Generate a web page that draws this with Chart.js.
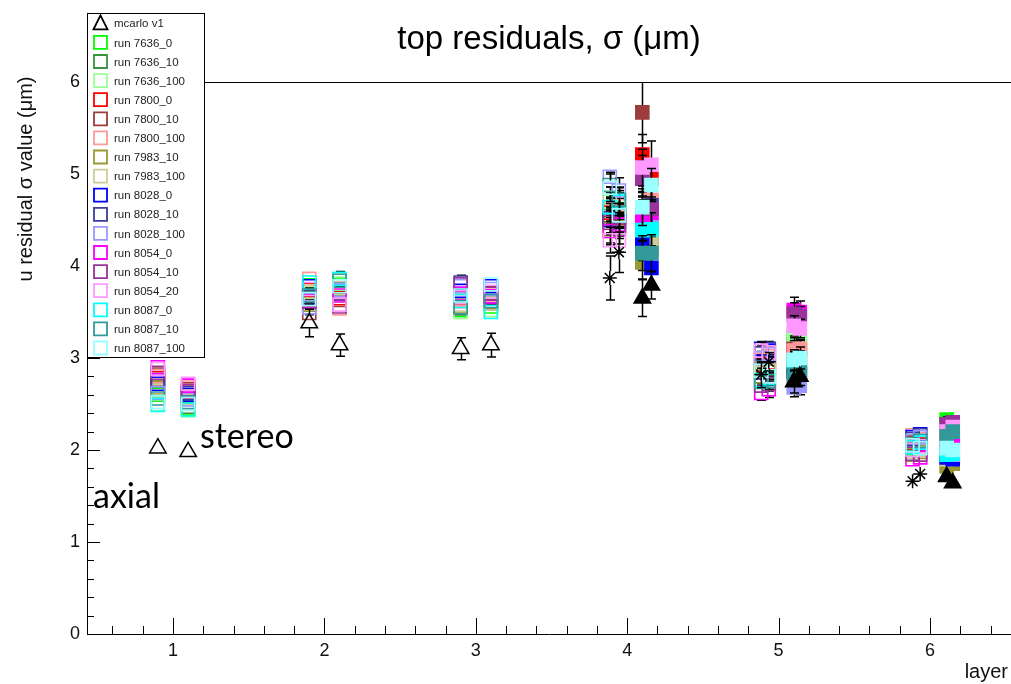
<!DOCTYPE html>
<html><head><meta charset="utf-8">
<script src="https://cdn.jsdelivr.net/npm/chart.js@4"></script>
<style>html,body{margin:0;padding:0;background:#fff;overflow:hidden}#wrap{position:relative;width:1011px;height:684px}</style>
</head><body><div id="wrap"><canvas id="c" width="1011" height="684"></canvas></div>
<script>
// x positions: layers 1-3 (axial, stereo); layers 4-6 (axial a, axial b, stereo a, stereo b)
const positions = [0.9, 1.1, 1.9, 2.1, 2.9, 3.1,
  3.885, 3.945, 4.1, 4.16,
  4.885, 4.935, 5.1, 5.14,
  5.885, 5.935, 6.11, 6.15];
const xTickValues = [1, 2, 3, 4, 5, 6];
const yTickValues = [0, 1, 2, 3, 4, 5, 6];

const mcarloValues = [2.02, 1.98, 3.38, 3.14, 3.10, 3.14, 3.87, 4.15, 3.65, 3.79, 2.82, 2.96, 2.74, 2.80, 1.66, 1.74, 1.71, 1.64];
const mcarloErrors = [0.02, 0.02, 0.15, 0.12, 0.12, 0.13, 0.24, 0.22, 0.20, 0.15, 0.14, 0.10, 0.12, 0.10, 0.04, 0.05, 0.05, 0.05];

const runLabels = ['run 7636_0','run 7636_10','run 7636_100','run 7800_0','run 7800_10','run 7800_100',
  'run 7983_10','run 7983_100','run 8028_0','run 8028_10','run 8028_100','run 8054_0','run 8054_10',
  'run 8054_20','run 8087_0','run 8087_10','run 8087_100'];
const runColors = ['#00ff00','#3c9140','#99ff99','#ff0000','#9c3c3c','#ff9999','#999933','#cccc99',
  '#0000ff','#3c3c99','#9999ff','#ff00ff','#993399','#ff99ff','#00ffff','#339999','#99ffff'];

const run7636_0   = [2.60, 2.45, 3.79, 3.80, 3.52, 3.56, 4.60, 4.62, 4.35, 4.45, 2.90, 2.92, 3.22, 3.18, 2.02, 2.05, 2.33, 2.20];
const run7636_10  = [2.66, 2.47, 3.66, 3.75, 3.54, 3.59, 4.55, 4.58, 4.20, 4.25, 2.85, 2.88, 3.15, 3.12, 2.00, 2.02, 2.28, 2.18];
const run7636_100 = [2.50, 2.43, 3.70, 3.81, 3.50, 3.52, 4.70, 4.66, 4.62, 4.70, 2.95, 2.94, 3.25, 3.24, 2.06, 2.08, 2.22, 2.24];
const run7800_0   = [2.78, 2.64, 3.74, 3.65, 3.65, 3.66, 4.58, 4.60, 5.21, 4.95, 2.92, 2.95, 3.05, 3.08, 2.04, 2.06, 2.12, 2.10];
const run7800_10  = [2.82, 2.66, 3.49, 3.63, 3.62, 3.71, 4.50, 4.52, 5.67, 4.60, 2.88, 2.90, 3.10, 3.02, 2.08, 2.05, 2.15, 2.12];
const run7800_100 = [2.80, 2.68, 3.86, 3.54, 3.64, 3.69, 4.62, 4.65, 5.00, 4.72, 2.98, 3.02, 3.08, 3.10, 2.16, 2.12, 2.10, 2.08];
const run7983_10  = [2.68, 2.58, 3.58, 3.71, 3.56, 3.61, 4.40, 4.42, 4.04, 4.18, 2.80, 2.85, 2.92, 2.90, 1.95, 1.98, 1.82, 1.85];
const run7983_100 = [2.64, 2.56, 3.72, 3.76, 3.58, 3.59, 4.74, 4.68, 4.25, 4.30, 2.84, 2.86, 2.95, 2.98, 1.98, 2.00, 1.90, 1.92];
const run8028_0   = [2.72, 2.60, 3.78, 3.72, 3.73, 3.78, 4.50, 4.48, 4.28, 3.98, 3.10, 3.08, 2.85, 2.82, 2.14, 2.17, 1.92, 1.90];
const run8028_10  = [2.76, 2.62, 3.66, 3.70, 3.82, 3.66, 4.52, 4.55, 4.55, 4.66, 3.05, 3.10, 2.88, 2.85, 2.12, 2.16, 1.96, 1.98];
const run8028_100 = [2.62, 2.55, 3.55, 3.74, 3.78, 3.75, 4.97, 4.82, 4.45, 4.52, 3.00, 3.04, 2.68, 2.70, 2.10, 2.14, 2.00, 1.95];
const run8054_0   = [2.90, 2.70, 3.62, 3.68, 3.70, 3.67, 4.38, 4.45, 4.50, 4.58, 2.62, 2.66, 3.52, 3.50, 1.90, 1.92, 2.05, 2.10];
const run8054_10  = [2.84, 2.64, 3.61, 3.56, 3.80, 3.70, 4.47, 4.40, 4.95, 4.62, 2.70, 2.72, 3.48, 3.45, 1.96, 1.95, 2.28, 2.30];
const run8054_20  = [2.88, 2.72, 3.75, 3.58, 3.66, 3.72, 4.28, 4.28, 5.07, 5.10, 3.08, 3.06, 3.35, 3.32, 2.00, 2.04, 2.20, 2.25];
const run8087_0   = [2.49, 2.44, 3.82, 3.86, 3.62, 3.50, 4.64, 4.70, 4.39, 4.40, 2.76, 2.78, 2.96, 2.92, 2.03, 2.08, 1.95, 1.96];
const run8087_10  = [2.56, 2.52, 3.68, 3.84, 3.55, 3.62, 4.88, 4.72, 4.14, 4.14, 2.74, 2.75, 2.82, 2.86, 2.06, 2.10, 2.15, 2.20];
const run8087_100 = [2.52, 2.50, 3.64, 3.78, 3.68, 3.80, 4.85, 4.55, 4.64, 4.88, 2.86, 2.80, 2.98, 3.00, 2.05, 2.02, 2.02, 2.00];

const err7636_0   = [0.03,0.03,0.04,0.03,0.03,0.04, 0.14,0.12,0.18,0.16, 0.08,0.07,0.10,0.09, 0.05,0.05,0.06,0.05];
const err7636_10  = [0.03,0.04,0.03,0.03,0.04,0.03, 0.13,0.15,0.20,0.17, 0.07,0.08,0.11,0.10, 0.05,0.06,0.06,0.06];
const err7636_100 = [0.04,0.03,0.03,0.04,0.03,0.03, 0.16,0.14,0.19,0.22, 0.09,0.08,0.12,0.09, 0.06,0.05,0.05,0.07];
const err7800_0   = [0.03,0.03,0.04,0.05,0.03,0.08, 0.15,0.13,0.22,0.20, 0.08,0.09,0.10,0.11, 0.05,0.05,0.06,0.06];
const err7800_10  = [0.04,0.03,0.03,0.04,0.03,0.03, 0.14,0.16,0.33,0.18, 0.07,0.08,0.12,0.10, 0.06,0.05,0.07,0.05];
const err7800_100 = [0.03,0.04,0.03,0.03,0.04,0.03, 0.13,0.14,0.20,0.19, 0.09,0.07,0.11,0.10, 0.05,0.06,0.05,0.06];
const err7983_10  = [0.03,0.03,0.05,0.03,0.03,0.04, 0.15,0.12,0.18,0.21, 0.08,0.08,0.10,0.12, 0.05,0.05,0.06,0.05];
const err7983_100 = [0.04,0.03,0.03,0.04,0.03,0.03, 0.12,0.14,0.19,0.17, 0.07,0.09,0.12,0.10, 0.06,0.05,0.05,0.06];
const err8028_0   = [0.03,0.04,0.03,0.03,0.05,0.04, 0.14,0.15,0.21,0.18, 0.08,0.07,0.10,0.11, 0.05,0.06,0.06,0.05];
const err8028_10  = [0.03,0.03,0.08,0.03,0.08,0.03, 0.16,0.13,0.20,0.19, 0.09,0.08,0.11,0.09, 0.05,0.05,0.07,0.06];
const err8028_100 = [0.04,0.03,0.08,0.04,0.03,0.04, 0.05,0.14,0.18,0.20, 0.07,0.08,0.10,0.10, 0.06,0.05,0.06,0.05];
const err8054_0   = [0.03,0.04,0.03,0.03,0.03,0.03, 0.15,0.12,0.22,0.17, 0.08,0.09,0.14,0.12, 0.05,0.06,0.05,0.06];
const err8054_10  = [0.03,0.03,0.04,0.03,0.04,0.03, 0.13,0.16,0.19,0.21, 0.07,0.08,0.12,0.11, 0.06,0.05,0.08,0.07];
const err8054_20  = [0.04,0.03,0.03,0.05,0.03,0.04, 0.14,0.13,0.20,0.26, 0.09,0.07,0.11,0.10, 0.05,0.05,0.06,0.06];
const err8087_0   = [0.03,0.04,0.03,0.08,0.03,0.03, 0.16,0.15,0.21,0.18, 0.08,0.08,0.10,0.11, 0.05,0.06,0.06,0.05];
const err8087_10  = [0.03,0.03,0.08,0.03,0.04,0.04, 0.14,0.14,0.19,0.20, 0.07,0.09,0.12,0.10, 0.06,0.05,0.07,0.06];
const err8087_100 = [0.04,0.03,0.03,0.03,0.03,0.03, 0.15,0.13,0.20,0.18, 0.08,0.07,0.11,0.12, 0.05,0.06,0.05,0.07];

const runValues = [run7636_0, run7636_10, run7636_100, run7800_0, run7800_10, run7800_100, run7983_10, run7983_100,
  run8028_0, run8028_10, run8028_100, run8054_0, run8054_10, run8054_20, run8087_0, run8087_10, run8087_100];
const runErrors = [err7636_0, err7636_10, err7636_100, err7800_0, err7800_10, err7800_100, err7983_10, err7983_100,
  err8028_0, err8028_10, err8028_100, err8054_0, err8054_10, err8054_20, err8087_0, err8087_10, err8087_100];

// marker kind: 0 = open (layers 1-3), 1 = open/axial (layers 4-6), 2 = filled/stereo (layers 4-6)
function kindOf(i) {
  if (i === undefined) return 0;
  if (i < 6) return 0;
  return ((i - 6) % 4) < 2 ? 1 : 2;
}
const SQ_R = 9.2, TRI_R = 9.5, STAR_R = 7;
const FONT = "'Liberation Sans', Arial, Helvetica, sans-serif";

const datasets = [{
  label: 'mcarlo v1',
  data: positions.map((x, i) => ({x: x, y: mcarloValues[i]})),
  errs: mcarloErrors,
  mc: true,
  borderColor: '#000',
  backgroundColor: c => kindOf(c.dataIndex) === 2 ? '#000' : 'rgba(0,0,0,0)',
  pointStyle: c => kindOf(c.dataIndex) === 1 ? 'star' : 'triangle',
  pointRadius: c => kindOf(c.dataIndex) === 1 ? STAR_R : TRI_R,
  pointBorderWidth: 1.5,
  order: 0
}];
runLabels.forEach((lab, r) => {
  const col = runColors[r];
  datasets.push({
    label: lab,
    data: positions.map((x, i) => ({x: x, y: runValues[r][i]})),
    errs: runErrors[r],
    borderColor: col,
    backgroundColor: c => kindOf(c.dataIndex) === 2 ? col : 'rgba(0,0,0,0)',
    pointStyle: 'rect',
    pointRadius: SQ_R,
    pointBorderWidth: 1.6,
    order: runLabels.length - r
  });
});

const errorBars = {
  id: 'errorBars',
  beforeDatasetDraw(chart, args) {
    const ds = chart.data.datasets[args.index];
    if (!ds.errs) return;
    const ctx = chart.ctx, ys = chart.scales.y, ca = chart.chartArea;
    ctx.save();
    ctx.beginPath(); ctx.rect(ca.left, ca.top, ca.right - ca.left, ca.bottom - ca.top); ctx.clip();
    ctx.strokeStyle = '#000'; ctx.lineWidth = 1.5;
    args.meta.data.forEach((pt, i) => {
      const e = ds.errs[i]; if (!e) return;
      const v = ds.data[i].y;
      const yt = ys.getPixelForValue(v + e), yb = ys.getPixelForValue(v - e);
      const k = kindOf(i);
      let gu = 6.5, gd = 6.5;
      if (ds.mc) { if (k === 1) { gu = gd = STAR_R; } else { gu = TRI_R; gd = TRI_R / 2; } }
      const x = Math.round(pt.x) + 0.5;
      ctx.beginPath();
      if (yt < pt.y - gu) { ctx.moveTo(x, pt.y - gu); ctx.lineTo(x, yt); ctx.moveTo(x - 4.5, yt); ctx.lineTo(x + 4.5, yt); }
      if (yb > pt.y + gd) { ctx.moveTo(x, pt.y + gd); ctx.lineTo(x, yb); ctx.moveTo(x - 4.5, yb); ctx.lineTo(x + 4.5, yb); }
      ctx.stroke();
    });
    ctx.restore();
  }
};

const decorations = {
  id: 'decorations',
  afterDraw(chart) {
    const ctx = chart.ctx, ca = chart.chartArea, xs = chart.scales.x, ys = chart.scales.y;
    ctx.save();
    ctx.strokeStyle = '#000'; ctx.lineWidth = 1;
    // top frame line
    ctx.beginPath(); ctx.moveTo(ca.left, ca.top + 0.5); ctx.lineTo(ca.right, ca.top + 0.5); ctx.stroke();
    // x ticks (inside frame)
    ctx.beginPath();
    for (let v = Math.ceil(xs.min * 5) / 5; v <= xs.max + 1e-9; v += 0.2) {
      const vv = Math.round(v * 5) / 5;
      const px = Math.round(xs.getPixelForValue(vv)) + 0.5;
      const major = Math.abs(vv - Math.round(vv)) < 1e-6;
      ctx.moveTo(px, ca.bottom); ctx.lineTo(px, ca.bottom - (major ? 16 : 8));
    }
    // y ticks
    for (let v = 0; v <= ys.max + 1e-9; v += 0.2) {
      const vv = Math.round(v * 5) / 5;
      const py = Math.round(ys.getPixelForValue(vv)) + 0.5;
      const major = Math.abs(vv - Math.round(vv)) < 1e-6;
      ctx.moveTo(ca.left, py); ctx.lineTo(ca.left + (major ? 13 : 7), py);
    }
    ctx.stroke();

    // title
    ctx.fillStyle = '#000';
    ctx.font = '33px ' + FONT;
    ctx.textAlign = 'center'; ctx.textBaseline = 'middle';
    ctx.fillText('top residuals, \u03c3 (\u03bcm)', 549, 40);
    // axis titles
    ctx.font = '20px ' + FONT;
    ctx.fillStyle = '#111';
    ctx.save(); ctx.translate(26, 179); ctx.rotate(-Math.PI / 2);
    ctx.fillText('u residual \u03c3 value (\u03bcm)', 0, 0); ctx.restore();
    ctx.textAlign = 'right';
    ctx.fillText('layer', 1008, 672);

    // legend
    const lx = 87, ly = 13, lw = 117, lh = 344;
    ctx.fillStyle = '#fff'; ctx.fillRect(lx, ly, lw, lh);
    ctx.strokeStyle = '#000'; ctx.lineWidth = 1;
    ctx.strokeRect(lx + 0.5, ly + 0.5, lw, lh);
    ctx.font = '11.5px ' + FONT; ctx.textAlign = 'left'; ctx.textBaseline = 'middle';
    chart.data.datasets.forEach((ds, i) => {
      const cy = 23.3 + i * 19.1, cx = 100.5;
      ctx.strokeStyle = ds.borderColor; ctx.lineWidth = 1.8;
      ctx.beginPath();
      if (ds.mc) {
        ctx.moveTo(cx, cy - 8); ctx.lineTo(cx + 7, cy + 6); ctx.lineTo(cx - 7, cy + 6); ctx.closePath();
      } else {
        ctx.rect(cx - 6.5, cy - 6.5, 13, 13);
      }
      ctx.stroke();
      ctx.fillStyle = '#222';
      ctx.fillText(ds.label, 114, cy + 1);
    });

    // annotations
    ctx.fillStyle = '#000';
    ctx.font = "34px Lato, 'Open Sans', sans-serif";
    ctx.textAlign = 'left'; ctx.textBaseline = 'alphabetic';
    ctx.fillText('stereo', 200, 448);
    ctx.fillText('axial', 93, 508);
    ctx.restore();
  }
};

new Chart(document.getElementById('c'), {
  type: 'scatter',
  data: {datasets: datasets},
  plugins: [errorBars, decorations],
  options: {
    responsive: false,
    devicePixelRatio: 1,
    animation: false,
    events: [],
    layout: {autoPadding: false, padding: {top: 82, left: 0, right: 0, bottom: 0}},
    plugins: {legend: {display: false}, tooltip: {enabled: false}, title: {display: false}},
    scales: {
      x: {
        type: 'linear', min: 0.432, max: 6.535,
        afterBuildTicks: s => { s.ticks = xTickValues.map(v => ({value: v})); },
        afterFit: s => { s.height = 50; },
        grid: {display: false, drawTicks: false},
        border: {display: true, color: '#000', width: 1},
        ticks: {font: {family: FONT, size: 18}, color: '#111', padding: 6}
      },
      y: {
        type: 'linear', min: 0, max: 6,
        afterBuildTicks: s => { s.ticks = yTickValues.map(v => ({value: v})); },
        afterFit: s => { s.width = 87; },
        grid: {display: false, drawTicks: false},
        border: {display: true, color: '#000', width: 1},
        ticks: {font: {family: FONT, size: 18}, color: '#111', padding: 7}
      }
    }
  }
});
</script>
</body></html>
